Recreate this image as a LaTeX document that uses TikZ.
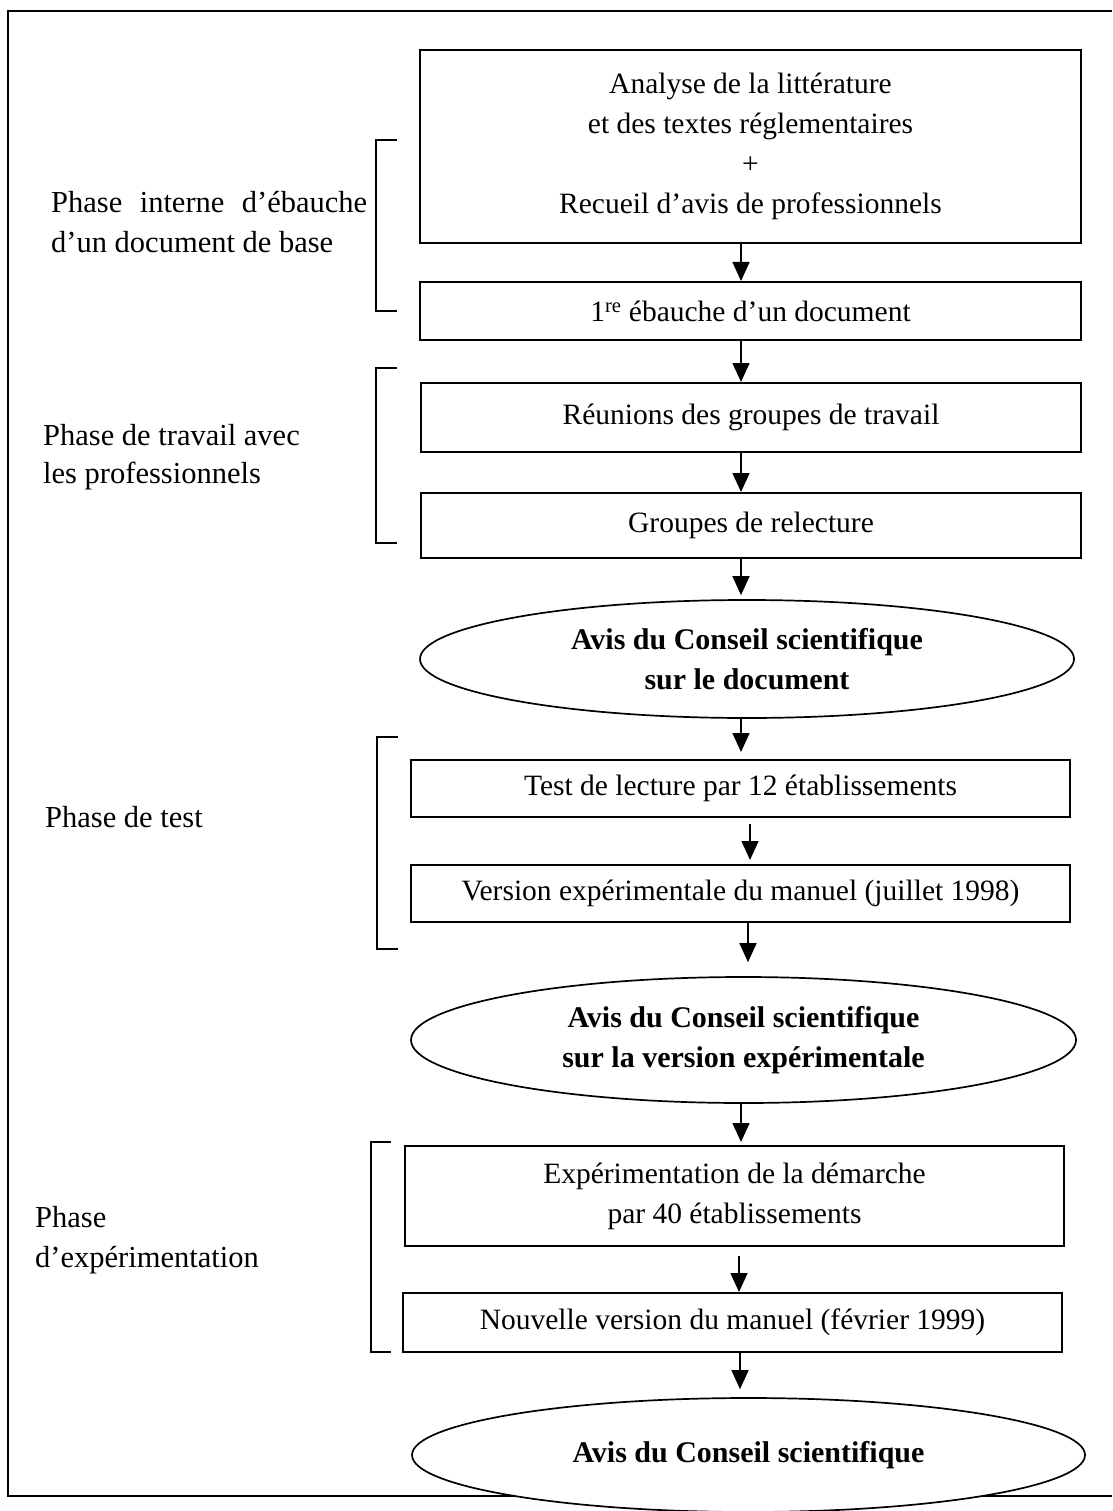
\documentclass[tikz,border=0pt]{standalone}
\usepackage{fontspec}
\setmainfont{Liberation Serif}
\usetikzlibrary{shapes.geometric,arrows.meta}
\newcommand\myboxfont{\fontsize{29.5}{40}\selectfont}
\newcommand\myellfont{\fontsize{30}{40}\selectfont\bfseries}
\newcommand\mylblfont{\fontsize{30.5}{40}\selectfont}
\begin{document}
\begin{tikzpicture}[x=1pt,y=-1pt,
  box/.style={draw,line width=2pt,rectangle,inner sep=0pt,align=center,font=\myboxfont},
  ell/.style={draw,ellipse,line width=1.7pt,inner sep=0pt,align=center,fill=white,font=\myellfont},
  arr/.style={line width=1.5pt,-{Triangle[width=17pt,length=19pt]}},
  brk/.style={line width=1.7pt},
  lbl/.style={anchor=base west,inner sep=0pt,font=\mylblfont},
  frame/.style={line width=1.8pt}]
\useasboundingbox (0,0) rectangle (1112,1511);
\fill[white] (0,0) rectangle (1112,1511);
% outer frame
\draw[frame] (1112,11) -- (8,11) -- (8,1496) -- (1112,1496);
% boxes
\node[box, minimum width=661pt, minimum height=193pt] (b1) at (750.5,146.5)
  {Analyse de la littérature\\et des textes réglementaires\\+\\Recueil d’avis de professionnels};
\node[box, minimum width=661pt, minimum height=58pt] (b2) at (750.5,311)
  {1\textsuperscript{re} ébauche d’un document};
\node[box, minimum width=660pt, minimum height=69pt] (b3) at (751,417.5)
  {Réunions des groupes de travail};
\node[box, minimum width=660pt, minimum height=65pt] (b4) at (751,525.5)
  {Groupes de relecture};
\node[ell, minimum width=654pt, minimum height=118pt] (e1) at (747,659)
  {Avis du Conseil scientifique\\sur le document};
\node[box, minimum width=659pt, minimum height=57pt] (b5) at (740.5,788.5)
  {Test de lecture par 12 établissements};
\node[box, minimum width=659pt, minimum height=57pt] (b6) at (740.5,893.5)
  {Version expérimentale du manuel (juillet 1998)};
\node[ell, minimum width=665pt, minimum height=126pt] (e2) at (743.5,1040)
  {Avis du Conseil scientifique\\sur la version expérimentale};
\node[box, minimum width=659pt, minimum height=100pt] (b7) at (734.5,1196)
  {Expérimentation de la démarche\\par 40 établissements};
\node[box, minimum width=659pt, minimum height=59pt] (b8) at (732.5,1322.5)
  {Nouvelle version du manuel (février 1999)};
\node[ell, minimum width=673pt, minimum height=114pt] (e3) at (748.5,1455)
  {Avis du Conseil scientifique};
% arrow x positions
\coordinate (ax1) at (741,0);
\coordinate (ax2) at (750,0);
\coordinate (ax3) at (748,0);
\coordinate (ax4) at (739,0);
\coordinate (ax5) at (740,0);
% arrows
\draw[arr] (b1.south -| ax1) -- (b2.north -| ax1);
\draw[arr] (b2.south -| ax1) -- (b3.north -| ax1);
\draw[arr] (b3.south -| ax1) -- (b4.north -| ax1);
\draw[arr, shorten >=4pt] (b4.south -| ax1) -- (e1.north -| ax1);
\draw[arr, shorten >=7pt] (e1.south -| ax1) -- (b5.north -| ax1);
\draw[arr, shorten <=6pt, shorten >=4pt] (b5.south -| ax2) -- (b6.north -| ax2);
\draw[arr, shorten >=14pt] (b6.south -| ax3) -- (e2.north -| ax3);
\draw[arr, shorten >=3pt] (e2.south -| ax1) -- (b7.north -| ax1);
\draw[arr, shorten <=9pt] (b7.south -| ax4) -- (b8.north -| ax4);
\draw[arr, shorten >=8pt] (b8.south -| ax5) -- (e3.north -| ax5);
% brackets
\draw[brk] (397,140) -- (376,140) -- (376,311) -- (397,311);
\draw[brk] (397,368) -- (376,368) -- (376,543) -- (397,543);
\draw[brk] (398,737) -- (377,737) -- (377,949) -- (398,949);
\draw[brk] (391,1142) -- (371,1142) -- (371,1352) -- (391,1352);
% phase labels
\node[lbl] (l1a) at (51,213) {\makebox[316pt][s]{Phase interne d’ébauche}};
\node[lbl] (l1b) at (51,253) {d’un document de base};
\node[lbl] (l2a) at (43,445) {Phase de travail avec};
\node[lbl] (l2b) at (43,483) {les professionnels};
\node[lbl] (l3) at (45,827) {Phase de test};
\node[lbl] (l4a) at (35,1227) {Phase};
\node[lbl] (l4b) at (35,1267) {d’expérimentation};
\end{tikzpicture}
\end{document}
